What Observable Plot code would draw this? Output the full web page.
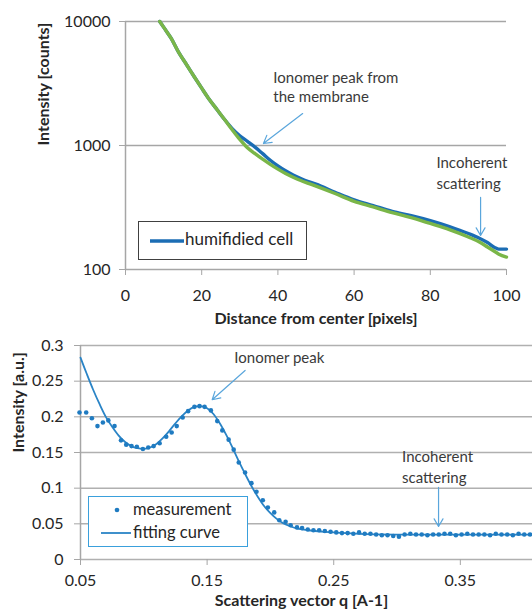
<!DOCTYPE html>
<html><head><meta charset="utf-8">
<script src="https://cdn.jsdelivr.net/npm/d3@7"></script>
<script src="https://cdn.jsdelivr.net/npm/@observablehq/plot@0.6"></script>
<style>
body{margin:0;background:#fff;font-family:Lato,sans-serif;}
#wrap{position:relative;width:532px;height:610px;overflow:hidden;background:#fff;}
.chart{position:absolute;left:0;}
.legend{position:absolute;background:#fff;box-sizing:border-box;font-family:Lato,sans-serif;color:#262626;}
.legend .item{position:absolute;white-space:nowrap;}
</style></head><body><div id="wrap"></div>
<script>
// ---------- top chart data ----------
const distance = [9,10,12,14,16,18,20,22,24,26,28,30,32,34,36,38,40,42,44,46,48,50,55,60,65,70,75,80,85,90,93,95,97,98,100];
const humidified = [10000,9000,7300,5600,4500,3600,2900,2350,1950,1620,1370,1200,1080,970,860,760,685,625,578,542,512,488,420,365,328,294,272,248,222,195,178,165,150,146,146];
const reference = [10000,9000,7300,5600,4500,3600,2900,2350,1950,1620,1340,1120,960,860,775,705,645,595,555,522,495,470,410,355,320,287,262,235,210,183,166,152,139,133,126];
const topYTicks = [100,1000,10000];
const topXTicks = [0,20,40,60,80,100];
const topNotes = [
  {x: 38.8, y: 3221, text: "Ionomer peak from"},
  {x: 38.8, y: 2223, text: "the membrane"},
  {x: 81.6, y: 653, text: "Incoherent"},
  {x: 81.6, y: 450, text: "scattering"}
];
const topArrows = [
  {x1: 46.5, y1: 1811, x2: 36.2, y2: 1038},
  {x1: 93.2, y1: 381, x2: 93.2, y2: 188}
];

// ---------- bottom chart data ----------
const qMeas = [0.0492,0.0545,0.0590,0.0634,0.0677,0.0720,0.0769,0.0820,0.0861,0.0903,0.0945,0.0993,0.1035,0.1078,0.1125,0.1177,0.1220,0.1260,0.1307,0.1350,0.1400,0.1440,0.1480,0.1530,0.1580,0.1620,0.1670,0.1710,0.1750,0.1800,0.1850,0.1890,0.1940,0.1980,0.2030,0.2070,0.2120,0.2160,0.2210,0.2250,0.2295,0.2340,0.2385,0.2430,0.2475,0.2520,0.2565,0.2610,0.2655,0.2700,0.2745,0.2790,0.2835,0.2880,0.2925,0.2970,0.3015,0.3060,0.3105,0.3150,0.3195,0.3240,0.3285,0.3330,0.3375,0.3420,0.3465,0.3510,0.3555,0.3600,0.3645,0.3690,0.3735,0.3780,0.3825,0.3870,0.3915,0.3960,0.4005,0.4050];
const measurement = [0.206,0.206,0.198,0.187,0.192,0.195,0.187,0.167,0.161,0.159,0.158,0.155,0.157,0.159,0.163,0.172,0.178,0.187,0.199,0.208,0.214,0.215,0.214,0.209,0.194,0.181,0.168,0.154,0.136,0.122,0.107,0.095,0.083,0.073,0.066,0.055,0.053,0.048,0.045,0.044,0.042,0.041,0.041,0.040,0.039,0.038,0.037,0.037,0.036,0.038,0.036,0.036,0.035,0.034,0.034,0.033,0.032,0.035,0.036,0.035,0.035,0.034,0.035,0.035,0.036,0.036,0.034,0.035,0.036,0.035,0.035,0.035,0.034,0.036,0.035,0.035,0.034,0.036,0.035,0.035];
const qFit = [0.05,0.055,0.06,0.065,0.07,0.075,0.08,0.085,0.09,0.095,0.10,0.105,0.11,0.115,0.12,0.125,0.13,0.135,0.14,0.145,0.15,0.155,0.16,0.165,0.17,0.175,0.18,0.185,0.19,0.195,0.20,0.205,0.21,0.215,0.22,0.23,0.24,0.25,0.27,0.30,0.35,0.407];
const fitting = [0.283,0.260,0.238,0.218,0.200,0.186,0.174,0.165,0.159,0.156,0.155,0.157,0.162,0.170,0.180,0.191,0.201,0.209,0.214,0.215,0.212,0.204,0.191,0.175,0.157,0.138,0.120,0.103,0.088,0.075,0.065,0.057,0.051,0.047,0.044,0.041,0.039,0.038,0.036,0.035,0.035,0.035];
const botYTicks = [0,0.05,0.1,0.15,0.2,0.25,0.3];
const botXTicks = [0.05,0.15,0.25,0.35];
const botNotes = [
  {x: 0.1715, y: 0.2748, text: "Ionomer peak"},
  {x: 0.304, y: 0.136, text: "Incoherent"},
  {x: 0.304, y: 0.1066, text: "scattering"}
];
const botArrows = [
  {x1: 0.180, y1: 0.265, x2: 0.154, y2: 0.224},
  {x1: 0.3328, y1: 0.101, x2: 0.3328, y2: 0.0463}
];

const topRows = distance.map((d, i) => ({d, blue: humidified[i], green: reference[i]}));
const measRows = qMeas.map((q, i) => ({q, v: measurement[i]}));
const fitRows = qFit.map((q, i) => ({q, v: fitting[i]}));

const gridC = "#a6a6a6";
const arrowC = "#5aa6dc";
const txtC = "#3a3a3a";
const baseStyle = {fontFamily: "Lato, sans-serif", fontSize: "16px", color: "#262626", background: "transparent", overflow: "visible"};

const topChart = Plot.plot({
  width: 532, height: 330,
  marginLeft: 125, marginRight: 26, marginTop: 21, marginBottom: 61,
  style: baseStyle,
  x: {domain: [0, 100]},
  y: {type: "log", domain: [100, 10000]},
  marks: [
    Plot.ruleY(topYTicks, {stroke: gridC, strokeWidth: 1.5}),
    Plot.ruleX([0], {stroke: gridC, strokeWidth: 1.5}),
    Plot.axisY({ticks: topYTicks, tickFormat: d3.format("d"), tickSize: 6, tickPadding: 9, stroke: gridC, label: null}),
    Plot.axisX({ticks: topXTicks, tickSize: 6, tickPadding: 14, stroke: gridC, label: null}),
    Plot.text(["Intensity [counts]"], {frameAnchor: "left", dx: -82, rotate: -90, fontWeight: "bold", fontSize: 16, text: d => d, fill: "#262626"}),
    Plot.text(["Distance from center [pixels]"], {frameAnchor: "bottom", dy: 54, fontWeight: "bold", fontSize: 16, text: d => d, fill: "#262626"}),
    Plot.line(topRows, {x: "d", y: "blue", stroke: "#1b6db4", strokeWidth: 3.4, curve: "monotone-x"}),
    Plot.line(topRows, {x: "d", y: "green", stroke: "#7ab648", strokeWidth: 3.4, curve: "monotone-x"}),
    Plot.text(topNotes, {x: "x", y: "y", text: "text", textAnchor: "start", lineAnchor: "bottom", fill: txtC, fontSize: 15}),
    Plot.arrow(topArrows, {x1: "x1", y1: "y1", x2: "x2", y2: "y2", stroke: arrowC, strokeWidth: 1.2, headLength: 11})
  ]
});

const botChart = Plot.plot({
  width: 532, height: 280,
  marginLeft: 80, marginRight: 0, marginTop: 15, marginBottom: 51,
  style: baseStyle,
  x: {domain: [0.05, 0.407]},
  y: {domain: [0, 0.3]},
  marks: [
    Plot.ruleY(botYTicks, {stroke: "#b0b0b0", strokeWidth: 1.5}),
    Plot.ruleX([0.05], {stroke: gridC, strokeWidth: 1.5}),
    Plot.axisY({ticks: botYTicks, tickFormat: d => String(d), tickSize: 6, tickPadding: 11, stroke: gridC, label: null}),
    Plot.axisX({ticks: botXTicks, tickFormat: d => d.toFixed(2), tickSize: 6, tickPadding: 9, stroke: gridC, label: null}),
    Plot.text(["Intensity [a.u.]"], {frameAnchor: "left", dx: -62, rotate: -90, fontWeight: "bold", fontSize: 16, text: d => d, fill: "#262626"}),
    Plot.text(["Scattering vector q [A-1]"], {frameAnchor: "bottom", dx: -5, dy: 46, fontWeight: "bold", fontSize: 16, text: d => d, fill: "#262626"}),
    Plot.line(fitRows, {x: "q", y: "v", stroke: "#2a84c6", strokeWidth: 1.8, curve: "catmull-rom"}),
    Plot.dot(measRows, {x: "q", y: "v", r: 2.3, fill: "#1f7bc1", stroke: "none"}),
    Plot.text(botNotes, {x: "x", y: "y", text: "text", textAnchor: "start", lineAnchor: "bottom", fill: txtC, fontSize: 15}),
    Plot.arrow(botArrows, {x1: "x1", y1: "y1", x2: "x2", y2: "y2", stroke: arrowC, strokeWidth: 1.2, headLength: 11})
  ]
});

const wrap = document.getElementById("wrap");
topChart.classList.add("chart"); topChart.style.top = "0px";
botChart.classList.add("chart"); botChart.style.top = "330px";
wrap.appendChild(topChart);
wrap.appendChild(botChart);

// legends (HTML overlays)
const leg1 = document.createElement("div");
leg1.className = "legend";
Object.assign(leg1.style, {left: "138px", top: "221px", width: "169px", height: "39px", border: "1.6px solid #404040"});
leg1.innerHTML = `<svg width="36" height="6" style="position:absolute;left:11px;top:16px"><line x1="0" y1="3" x2="34" y2="3" stroke="#1b6db4" stroke-width="3.4"/></svg><div class="item" style="left:46px;top:6px;font-size:17px;">humifidied cell</div>`;
wrap.appendChild(leg1);

const leg2 = document.createElement("div");
leg2.className = "legend";
Object.assign(leg2.style, {left: "88px", top: "496px", width: "160px", height: "51px", border: "1.6px solid #3aa0dc"});
leg2.innerHTML = `<svg width="8" height="8" style="position:absolute;left:24px;top:9px"><circle cx="4" cy="4" r="2.3" fill="#1f7bc1"/></svg><div class="item" style="left:44px;top:2px;font-size:16.5px;">measurement</div><svg width="32" height="4" style="position:absolute;left:12px;top:34px"><line x1="0" y1="2" x2="30" y2="2" stroke="#2a84c6" stroke-width="1.8"/></svg><div class="item" style="left:44px;top:25px;font-size:16.5px;">fitting curve</div>`;
wrap.appendChild(leg2);
</script>
</body></html>
